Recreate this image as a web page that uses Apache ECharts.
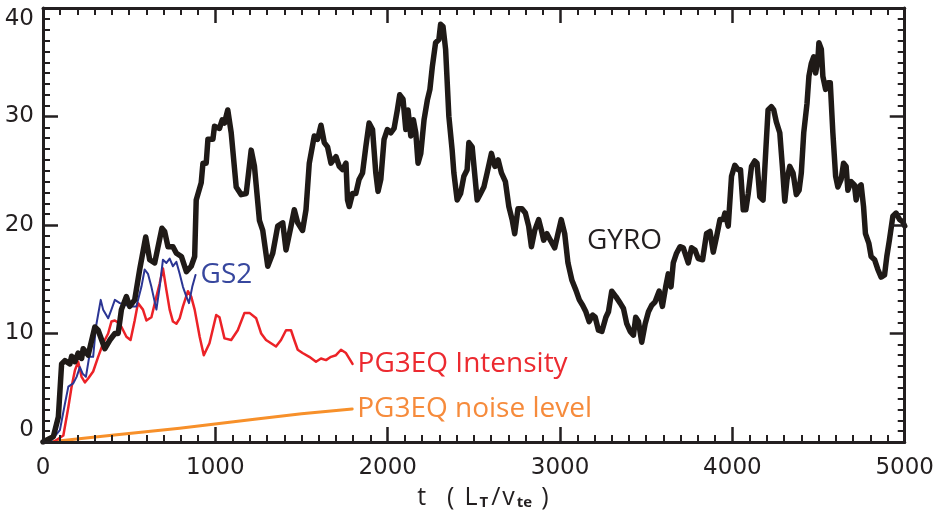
<!DOCTYPE html>
<html>
<head>
<meta charset="utf-8">
<script src="https://cdn.jsdelivr.net/npm/echarts@6/dist/echarts.min.js"></script>
<style>
  html, body { margin: 0; padding: 0; background: #ffffff; }
  #chart { width: 937px; height: 522px; }
</style>
</head>
<body>
<div id="chart"></div>
<script>
// Time traces: [t (L_T/v_te), amplitude]
const gyro = [
  [0,0],[60,0.5],[89,2.3],[108,7.2],[127,7.5],[156,7.2],[166,7.9],[185,7.4],[204,8.2],[224,7.7],
  [233,8.6],[262,8.0],[301,10.6],[320,10.3],[359,8.6],[388,9.4],[417,10.0],[436,10.0],[455,12.2],[484,13.4],
  [503,12.5],[532,13.1],[561,15.9],[596,18.9],[619,16.8],[648,16.5],[690,19.7],[706,19.4],[725,18.0],[754,18.0],
  [774,17.4],[803,17.1],[832,15.7],[860,16.2],[880,17.1],[889,22.3],[918,23.9],[928,25.7],[947,25.7],[957,27.9],
  [986,27.9],[995,29.1],[1024,28.9],[1040,29.7],[1053,29.4],[1072,30.6],[1092,28.5],[1121,23.5],[1150,22.8],[1179,22.9],
  [1208,26.9],[1227,25.4],[1256,20.4],[1275,19.5],[1304,16.2],[1333,17.4],[1362,19.9],[1391,20.2],[1410,17.7],[1439,19.9],
  [1458,21.4],[1478,20.2],[1506,19.5],[1526,21.4],[1545,25.7],[1574,28.2],[1593,27.9],[1613,29.2],[1632,27.6],[1651,27.2],
  [1671,25.7],[1700,26.3],[1719,25.4],[1738,25.1],[1758,25.7],[1767,22.3],[1777,21.7],[1796,22.9],[1815,22.9],[1834,24.2],
  [1854,24.8],[1873,27.2],[1892,29.4],[1912,28.8],[1931,24.8],[1944,23.1],[1960,24.2],[1979,27.9],[1998,28.8],[2018,28.5],
  [2037,28.9],[2056,30.6],[2070,32.0],[2089,31.6],[2105,28.8],[2118,30.6],[2134,28.2],[2149,29.7],[2163,28.5],[2176,25.7],
  [2192,26.6],[2211,29.7],[2230,31.5],[2245,32.5],[2259,34.6],[2278,36.8],[2297,37.1],[2307,38.5],[2321,38.3],[2336,36.2],
  [2355,30.0],[2374,26.9],[2384,24.8],[2403,22.3],[2423,22.9],[2442,24.5],[2461,25.1],[2471,27.6],[2490,27.2],[2519,22.3],
  [2539,22.9],[2558,23.5],[2577,24.8],[2602,26.6],[2622,25.4],[2641,26.0],[2660,24.8],[2683,24.0],[2703,21.7],[2722,20.5],
  [2737,19.2],[2756,21.5],[2779,21.5],[2799,21.1],[2818,19.9],[2834,18.0],[2853,19.5],[2876,20.5],[2892,19.5],[2905,18.6],
  [2924,19.2],[2944,18.6],[2969,17.9],[2988,19.2],[3007,20.5],[3027,19.2],[3046,16.5],[3069,14.9],[3092,14.0],[3112,13.1],
  [3131,12.6],[3150,12.0],[3169,11.1],[3189,11.7],[3204,11.5],[3223,10.3],[3243,10.2],[3266,11.5],[3281,12.0],[3300,13.9],
  [3324,13.4],[3349,12.8],[3368,12.3],[3387,10.9],[3407,10.2],[3426,9.85],[3439,11.5],[3455,11.1],[3474,9.2],[3494,10.9],
  [3513,12.0],[3532,12.6],[3551,12.9],[3575,13.9],[3594,12.5],[3613,14.3],[3628,15.5],[3644,14.3],[3657,16.5],[3676,17.4],
  [3696,18.0],[3715,17.9],[3744,16.5],[3763,17.9],[3783,17.7],[3802,16.9],[3827,16.8],[3850,19.2],[3870,19.4],[3889,17.5],
  [3908,18.9],[3928,20.5],[3947,20.5],[3957,21.1],[3976,19.9],[3995,24.5],[4014,25.5],[4034,25.1],[4047,25.1],[4063,21.4],
  [4078,21.4],[4092,22.9],[4111,25.4],[4130,25.9],[4143,25.7],[4159,22.6],[4178,22.3],[4194,26.9],[4207,30.6],[4226,30.9],
  [4240,30.6],[4255,29.5],[4275,28.5],[4290,25.4],[4304,22.2],[4317,24.2],[4333,25.4],[4352,24.8],[4371,22.8],[4387,23.2],
  [4400,24.8],[4414,28.5],[4433,31.2],[4444,33.7],[4458,34.9],[4472,35.5],[4483,34.0],[4496,35.2],[4502,36.8],[4516,36.2],
  [4525,33.7],[4541,32.5],[4554,33.1],[4568,33.1],[4583,28.5],[4599,24.5],[4612,23.5],[4631,24.2],[4645,25.7],[4660,25.4],
  [4670,23.2],[4689,24.0],[4708,23.7],[4718,22.3],[4733,23.5],[4747,23.7],[4761,21.7],[4772,19.2],[4792,18.3],[4805,17.1],
  [4825,16.8],[4844,15.9],[4863,15.2],[4883,15.4],[4896,17.1],[4911,18.6],[4931,20.8],[4950,21.1],[4970,20.5],[4988,20.3],
  [5000,19.9]
];

const gs2 = [
  [40,0],[98,1.1],[127,3.5],[147,5.1],[175,5.4],[195,6.0],[214,6.9],[230,6.3],[249,6.0],[268,7.85],
  [291,7.85],[307,10.6],[335,13.1],[349,12.2],[378,11.4],[397,12.2],[417,13.1],[446,12.8],[503,12.5],[542,12.5],
  [571,14.3],[590,15.9],[609,15.5],[629,14.3],[658,12.2],[677,14.3],[696,16.8],[716,16.5],[735,16.9],[754,16.2],
  [774,16.6],[793,15.5],[812,14.3],[832,13.4],[847,12.8],[866,14.3],[885,15.4]
];

const pg3eqIntensity = [
  [60,0],[118,0.6],[147,3.2],[166,5.1],[185,6.6],[204,7.4],[224,6.0],[243,5.5],[262,5.85],[291,6.5],
  [320,7.85],[349,9.1],[378,10.0],[397,11.1],[417,11.2],[446,10.9],[465,10.3],[484,9.7],[508,9.4],[532,11.2],
  [551,12.8],[580,12.2],[600,11.2],[629,11.5],[658,13.4],[677,14.6],[696,16.0],[716,14.0],[735,12.2],[754,11.1],
  [774,10.9],[793,11.4],[812,12.5],[841,13.9],[860,13.4],[880,12.2],[909,9.7],[933,8.0],[966,9.1],[1005,11.7],
  [1024,11.5],[1053,9.55],[1092,9.4],[1130,10.3],[1169,11.9],[1198,11.9],[1237,11.4],[1266,10.0],[1294,9.4],[1323,9.1],
  [1352,8.8],[1381,9.4],[1410,10.3],[1439,10.3],[1458,9.4],[1478,8.5],[1506,8.2],[1545,7.85],[1584,7.4],[1613,7.7],
  [1642,7.55],[1671,7.85],[1700,8.0],[1729,8.5],[1758,8.2],[1796,7.2]
];

const pg3eqNoise = [
  [0,0],[60,0.05],[400,0.62],[793,1.27],[1227,2.1],[1500,2.6],[1794,3.05]
];

// Axis ranges and tick spacing
const xRange = [0, 5000];
const xStep = 1000;
const yRange = [0, 40];
const yStep = 10;

// Position of the in-plot GYRO tag, in data units
const gyroTagAt = [3374, 18.5];

const ink = '#231f20';
const tickFont = 'DejaVu Sans';
const labelFont = 'Open Sans';

function plainNumber(v) { return String(v); }

// Boxed frame: every side carries inward major and minor ticks; only bottom/left are labelled.
function frameAxis(kind, position, showLabels) {
  const isX = kind === 'x';
  const axis = {
    type: 'value',
    position: position,
    zlevel: 1,
    z: 10,
    min: isX ? xRange[0] : yRange[0],
    max: isX ? xRange[1] : yRange[1],
    interval: isX ? xStep : yStep,
    axisLine: { show: true, onZero: false, lineStyle: { color: ink, width: 3 } },
    axisTick: { show: true, inside: true, length: 15, lineStyle: { color: ink, width: 2.5 } },
    minorTick: { show: true, splitNumber: 10, length: 7, lineStyle: { color: ink, width: 2 } },
    splitLine: { show: false },
    axisLabel: { show: false }
  };
  if (showLabels) {
    axis.axisLabel = isX ? {
      show: true, color: ink, fontFamily: tickFont, fontSize: 23, margin: 15, formatter: plainNumber
    } : {
      show: true, color: ink, fontFamily: tickFont, fontSize: 23, margin: 9, formatter: plainNumber,
      verticalAlignMinLabel: 'bottom', verticalAlignMaxLabel: 'top'
    };
  }
  return axis;
}

const chart = echarts.init(document.getElementById('chart'), null, { renderer: 'canvas' });

const xMain = frameAxis('x', 'bottom', true);
xMain.name = '{m|t}{gap|}{m|(}{g2|}{m|L}{s|T}{m|/}{m|v}{s|te}{g3|}{m|)}';
xMain.nameLocation = 'middle';
xMain.nameGap = 40;
xMain.nameTextStyle = {
  padding: [0, 0, 0, 18],
  rich: {
    m: { fontFamily: labelFont, fontSize: 25, color: ink, padding: [0, 1, 0, 1] },
    s: { fontFamily: labelFont, fontSize: 15, fontWeight: 'bold', color: ink, verticalAlign: 'bottom', padding: [0, 2, 0, 1] },
    gap: { width: 19 },
    g2: { width: 8 },
    g3: { width: 6 }
  }
};

function tracedLine(name, data, color, width, labelColor, showEnd) {
  return {
    name: name,
    type: 'line',
    data: data,
    showSymbol: false,
    symbol: 'none',
    lineStyle: { color: color, width: width, join: 'round', cap: 'round' },
    itemStyle: { color: color },
    endLabel: showEnd ? {
      show: true,
      formatter: name,
      distance: 5,
      color: labelColor,
      fontFamily: labelFont,
      fontSize: 28
    } : { show: false },
    silent: true
  };
}

const gyroSeries = tracedLine('GYRO', gyro, '#1f1a17', 5.5, ink, false);
gyroSeries.markPoint = {
  symbol: 'circle',
  symbolSize: 1,
  itemStyle: { color: 'rgba(0,0,0,0)' },
  silent: true,
  label: {
    show: true, position: 'inside', formatter: 'GYRO',
    color: ink, fontFamily: labelFont, fontSize: 28
  },
  data: [{ coord: gyroTagAt }]
};

chart.setOption({
  animation: false,
  backgroundColor: '#ffffff',
  grid: { left: 43, right: 30, top: 8, bottom: 80 },
  xAxis: [xMain, frameAxis('x', 'top', false)],
  yAxis: [frameAxis('y', 'left', true), frameAxis('y', 'right', false)],
  series: [
    tracedLine('PG3EQ noise level', pg3eqNoise, '#f7902a', 3, '#f68b3c', true),
    tracedLine('PG3EQ Intensity', pg3eqIntensity, '#ec2227', 2.5, '#ec2a30', true),
    tracedLine('GS2', gs2, '#2b3594', 2, '#37479e', true),
    gyroSeries
  ]
});
</script>
</body>
</html>
